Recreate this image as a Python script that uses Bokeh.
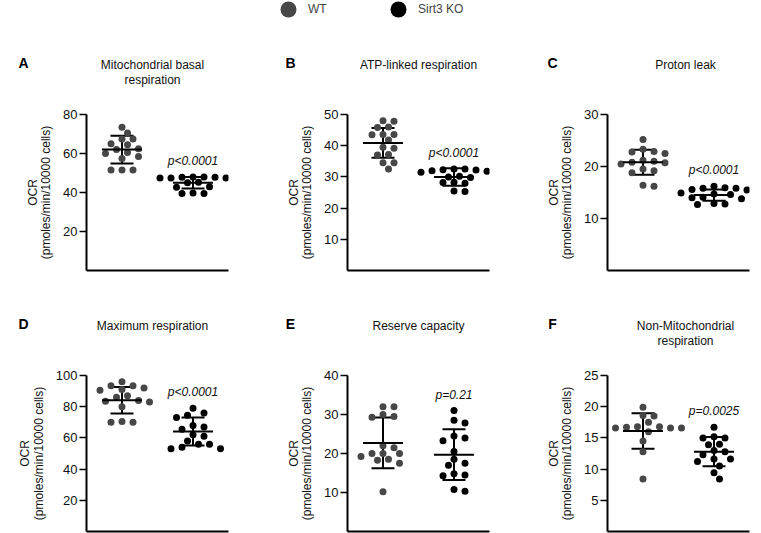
import numpy as np
from bokeh.plotting import figure
from bokeh.models import (Range1d, FixedTicker, Whisker, TeeHead, Label, Legend,
                          LegendItem, ColumnDataSource)
from bokeh.layouts import row, column
from bokeh.embed import file_html
from bokeh.resources import INLINE

# ---------------- data ----------------
groups = ["WT", "Sirt3 KO"]
panel_letters = ["A", "B", "C", "D", "E", "F"]
panel_titles = ["Mitochondrial basal\nrespiration", "ATP-linked respiration", "Proton leak",
                "Maximum respiration", "Reserve capacity", "Non-Mitochondrial\nrespiration"]
y_max = [80, 50, 30, 100, 40, 25]
y_ticks = [[20, 40, 60, 80], [10, 20, 30, 40, 50], [10, 20, 30],
           [20, 40, 60, 80, 100], [10, 20, 30, 40], [5, 10, 15, 20, 25]]
p_values = ["p<0.0001", "p<0.0001", "p<0.0001", "p<0.0001", "p=0.21", "p=0.0025"]
y_label = "OCR\n(pmoles/min/10000 cells)"

wt_A = [73.5, 70.5, 67.5, 67.5, 65, 64.5, 62.5, 62, 60.5, 60, 58.5, 57.5, 51.5, 51.5, 51.5]
ko_A = [48, 47.8, 47.5, 47.5, 47.8, 48, 47.5, 45.5, 45, 45.2, 43, 42.7, 39.8, 39.5, 39.5]
wt_B = [48, 47.8, 46, 45.8, 43.6, 43.6, 43.5, 41.8, 39.5, 39.2, 37.2, 37, 34.5, 34.5, 32.5]
ko_B = [32.2, 32, 31.8, 32.5, 32.5, 31.5, 32.3, 30, 29.8, 30.2, 28.3, 28, 28.2, 25.3, 25.5]
wt_C = [25.2, 23.3, 22.8, 22.9, 22.5, 21.0, 20.8, 21.2, 20.5, 20.7, 19.5, 19.2, 18.8, 16.2, 16.4]
ko_C = [15.8, 16.2, 15.9, 15.6, 15.8, 15.5, 14.7, 14.6, 14.9, 14.0, 13.8, 14.1, 12.8, 12.9, 12.7]
wt_D = [96, 93.5, 93.5, 92, 91, 90.5, 87, 86, 84, 83.5, 83, 80, 70, 70.5, 70]
ko_D = [79, 76, 74.5, 73, 68, 67, 65.5, 62, 61, 58, 56, 56, 54, 53, 53]
wt_E = [32, 32, 30, 29.5, 29.3, 22, 21.5, 20, 20, 20, 19.2, 18.5, 18.3, 17.5, 10.2]
ko_E = [31, 28.5, 27.8, 24.5, 24, 23.3, 20.5, 18.5, 17.5, 17, 14.5, 14.8, 14.3, 10.3, 10.8]
wt_F = [19.9, 18.6, 18.5, 17.5, 16.6, 16.8, 16.6, 16.7, 16.6, 16.8, 16.0, 14.5, 12.8, 8.4]
ko_F = [16.7, 15.2, 15.0, 15.0, 14.0, 13.9, 13.0, 12.8, 12.3, 11.6, 11.6, 11.2, 10.5, 9.4, 8.4]

wt_mean = [62.0, 40.9, 20.8, 84.1, 22.7, 16.1]
wt_sd = [7.1, 4.8, 2.4, 8.5, 6.5, 2.85]
ko_mean = [45.0, 30.0, 14.5, 64.1, 19.7, 12.8]
ko_sd = [3.0, 2.8, 1.1, 9.0, 6.5, 2.35]

wt_values = [wt_A, wt_B, wt_C, wt_D, wt_E, wt_F]
ko_values = [ko_A, ko_B, ko_C, ko_D, ko_E, ko_F]

# ---------------- style / layout ----------------
FONT = "Liberation Sans"
WT_COLOR = "#474747"
KO_COLOR = "#000000"
TEXT_COLOR = "#111111"
W = 761
FRAME_W, FRAME_H = 142, 156
X0, X1 = 0.5, 2.5
DOT = 7
LEFTS = [86, 78, 78]
RIGHTS = [41, 40, 12]
LETTER_DX = [-63, -57, -55]        # letter centre relative to frame left (px)
TITLE_DX = [-5, 0, 7]              # title centre shift from frame centre (px)
HEADER_H = [96, 44]                # header strips above each row
ROW_BORDERS = [(18, 46), (15, 2)]  # (top, bottom) borders of the panels per row
TITLE_TOP = 56.5                   # title top above frame top (px)
LETTER_UP = 50                     # letter centre above frame top (px)

# frame left edges of the three columns (canvas px)
frame_lefts = []
_x = 0
for c in range(3):
    frame_lefts.append(_x + LEFTS[c])
    _x += LEFTS[c] + FRAME_W + RIGHTS[c]


def swarm_offsets(values, px_y, px_x, step=5.5, dist=7.6):
    """Greedy beeswarm on a half-step grid: horizontal offsets in data units."""
    ypx = np.asarray(values, float) * px_y
    order = np.argsort(-ypx, kind="stable")
    placed = []
    offs = np.zeros(len(ypx))
    for i in order:
        y = ypx[i]
        best = 0.0
        for k in range(0, 200):
            cands = [0.0] if k == 0 else [k * step, -k * step]
            ok = None
            for c in cands:
                if all((c - px) ** 2 + (y - py) ** 2 >= dist ** 2 for px, py in placed):
                    ok = c
                    break
            if ok is not None:
                best = ok
                break
        placed.append((best, y))
        offs[i] = best / px_x
    return offs


def make_header(r, with_legend):
    """Full-width strip holding the panel letters and titles of one row."""
    h = HEADER_H[r]
    top_border = ROW_BORDERS[r][0]
    frame_top = h + top_border          # frame top of the row's panels, in strip px
    hd = figure(frame_width=W, frame_height=h, title=None,
                min_border_left=0, min_border_right=0, min_border_top=0, min_border_bottom=0,
                x_axis_type=None, y_axis_type=None, toolbar_location=None,
                output_backend="svg", outline_line_color=None,
                x_range=Range1d(0, W), y_range=Range1d(h, 0))
    for c in range(3):
        i = r * 3 + c
        hd.add_layout(Label(x=frame_lefts[c] + FRAME_W / 2 + TITLE_DX[c], y=frame_top - TITLE_TOP,
                            text=panel_titles[i], text_font=FONT, text_font_size="12px",
                            text_line_height=1.08, text_color=TEXT_COLOR,
                            text_align="center", text_baseline="top"))
        hd.add_layout(Label(x=frame_lefts[c] + LETTER_DX[c], y=frame_top - LETTER_UP - 2,
                            text=panel_letters[i], text_font=FONT, text_font_size="14px",
                            text_font_style="bold", text_color="black",
                            text_align="center", text_baseline="middle"))
    if with_legend:
        r_wt = hd.scatter(x=[np.nan], y=[np.nan], size=16, fill_color=WT_COLOR, line_color=None)
        r_ko = hd.scatter(x=[np.nan], y=[np.nan], size=16, fill_color=KO_COLOR, line_color=None)
        hd.add_layout(Legend(items=[LegendItem(label=groups[0], renderers=[r_wt]),
                                    LegendItem(label=groups[1], renderers=[r_ko])],
                             location=(268, h - 29), orientation="horizontal",
                             glyph_width=40, glyph_height=40, label_standoff=-2,
                             spacing=50, padding=0, margin=0,
                             border_line_color=None, background_fill_alpha=0,
                             label_text_font=FONT, label_text_font_size="12px"))
    return hd


def make_panel(i, left, right, top, bottom):
    p = figure(frame_width=FRAME_W, frame_height=FRAME_H, title=None,
               x_range=Range1d(X0, X1), y_range=Range1d(0, y_max[i]),
               output_backend="svg", toolbar_location=None,
               min_border_left=left, min_border_right=right,
               min_border_top=top, min_border_bottom=bottom,
               outline_line_color=None, background_fill_color="white",
               border_fill_color="white")
    p.grid.visible = False

    px_y = FRAME_H / y_max[i]
    px_x = FRAME_W / (X1 - X0)
    wt = wt_values[i]
    ko = ko_values[i]
    wt_x = 1 + swarm_offsets(wt, px_y, px_x)
    ko_x = 2 + swarm_offsets(ko, px_y, px_x)

    p.scatter(x=list(wt_x), y=wt, size=DOT, fill_color=WT_COLOR, line_color=None)
    p.scatter(x=list(ko_x), y=ko, size=DOT, fill_color=KO_COLOR, line_color=None)

    means = [wt_mean[i], ko_mean[i]]
    sds = [wt_sd[i], ko_sd[i]]
    half = 20.0 / px_x
    src = ColumnDataSource(dict(base=[1, 2],
                                upper=[m + s for m, s in zip(means, sds)],
                                lower=[m - s for m, s in zip(means, sds)],
                                mean=means,
                                x0=[1 - half, 2 - half], x1=[1 + half, 2 + half]))
    p.segment(x0="x0", x1="x1", y0="mean", y1="mean", source=src,
              line_color="black", line_width=2)
    p.add_layout(Whisker(base="base", upper="upper", lower="lower", source=src,
                         dimension="height", line_width=2, line_color="black",
                         upper_head=TeeHead(size=23, line_width=2, line_color="black"),
                         lower_head=TeeHead(size=23, line_width=2, line_color="black")))

    # p-value label above the KO group
    p.add_layout(Label(x=2, y=max(ko) + 16.0 / px_y, text=p_values[i], text_font=FONT,
                       text_font_size="12px", text_font_style="italic",
                       text_color=TEXT_COLOR, text_align="center", text_baseline="middle"))

    # y axis
    ya = p.yaxis[0]
    ya.ticker = FixedTicker(ticks=y_ticks[i])
    ya.axis_label = y_label
    ya.axis_label_text_font = FONT
    ya.axis_label_text_font_size = "12px"
    ya.axis_label_text_font_style = "normal"
    ya.axis_label_text_color = TEXT_COLOR
    ya.axis_label_text_line_height = 0.95
    ya.axis_label_standoff = 7
    ya.major_label_text_font = FONT
    ya.major_label_text_font_size = "13px"
    ya.major_label_text_color = TEXT_COLOR
    ya.major_label_standoff = 2
    ya.major_tick_in = 0
    ya.major_tick_out = 7
    ya.major_tick_line_width = 1.5
    ya.minor_tick_line_color = None
    ya.axis_line_width = 2

    # x axis: plain line, no ticks
    xa = p.xaxis[0]
    xa.ticker = FixedTicker(ticks=[])
    xa.major_label_text_font_size = "0px"
    xa.major_tick_line_color = None
    xa.minor_tick_line_color = None
    xa.major_label_standoff = 0
    xa.axis_line_width = 2
    return p


rows = []
for r in range(2):
    top, bottom = ROW_BORDERS[r]
    panels = [make_panel(r * 3 + c, LEFTS[c], RIGHTS[c], top, bottom) for c in range(3)]
    rows.append(make_header(r, with_legend=(r == 0)))
    rows.append(row(*panels, spacing=0))

layout = column(*rows, spacing=0)
open("out.html", "w").write(file_html(layout, INLINE))
